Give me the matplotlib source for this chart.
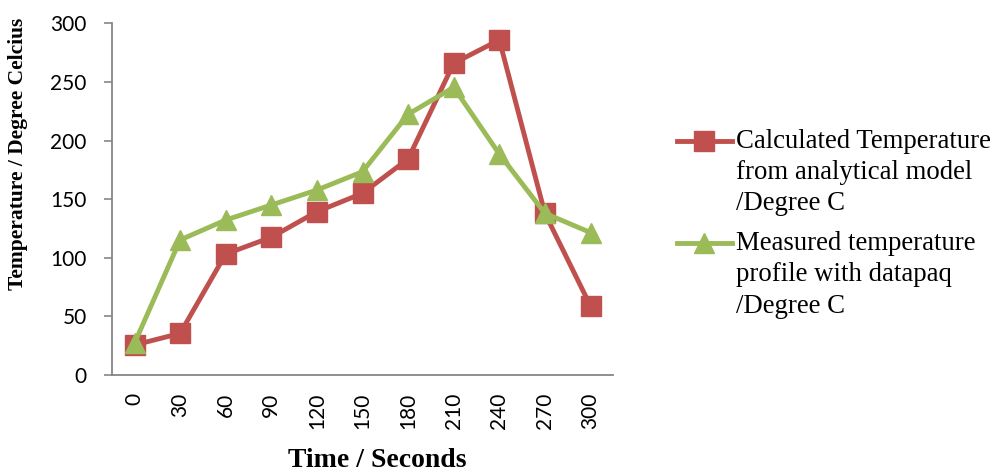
import matplotlib
matplotlib.use("Agg")
import matplotlib.pyplot as plt
from matplotlib.legend_handler import HandlerLine2D

# data
times = ["0", "30", "60", "90", "120", "150", "180", "210", "240", "270", "300"]
calculated = [25.6, 35.5, 103.2, 117.5, 139.3, 155.0, 184.3, 265.9, 285.8, 137.9, 58.9]
measured = [27.0, 115.2, 132.2, 145.0, 157.8, 173.4, 222.4, 245.4, 188.5, 138.0, 121.5]

calc_label = "Calculated Temperature\nfrom analytical model\n/Degree C"
meas_label = "Measured temperature\nprofile with datapaq\n/Degree C"

red = "#C0504D"
green = "#9BBB59"
axis_grey = "#868686"
LEG_SIZE = 19.3


class FirstLineHandler(HandlerLine2D):
    # Excel puts the legend key next to the first line of a wrapped label
    def create_artists(self, legend, orig_handle, xdescent, ydescent, width, height, fontsize, trans):
        artists = super().create_artists(legend, orig_handle, xdescent, ydescent,
                                         width, height, fontsize, trans)
        for a in artists:
            a.set_ydata([y + 23.0 for y in a.get_ydata()])
        return artists


fig = plt.figure(figsize=(10, 4.72), dpi=100)
ax = fig.add_axes([0.1117, 0.2055, 0.5016, 0.7451])

x = list(range(len(times)))
ax.plot(x, calculated, color=red, lw=3.5, marker="s", markersize=14, label=calc_label)
ax.plot(x, measured, color=green, lw=3.5, marker="^", markersize=15, label=meas_label)

ax.set_xlim(-0.5, len(times) - 0.5)
ax.set_ylim(0, 300)
ax.set_yticks([0, 50, 100, 150, 200, 250, 300])
ax.set_xticks(x)
ax.set_xticklabels(times, rotation=90, family="Lato", fontsize=15)
for lbl in ax.get_yticklabels():
    lbl.set_family("Lato")
    lbl.set_fontsize(15)

ax.tick_params(axis="x", length=0, pad=13)
ax.tick_params(axis="y", length=6, width=1.2, color=axis_grey, pad=12)

for side in ["top", "right"]:
    ax.spines[side].set_visible(False)
for side in ["left", "bottom"]:
    ax.spines[side].set_color(axis_grey)
    ax.spines[side].set_linewidth(1.3)

fig.text(0.377, 1 - 467 / 472, "Time / Seconds", family="Liberation Serif", fontweight="bold",
         fontsize=20, ha="center", va="baseline")
fig.text(0.0185, 1 - 154 / 472, "Temperature / Degree Celcius", family="Liberation Serif",
         fontweight="bold", fontsize=15.5, rotation=90, ha="center", va="center")

handler = FirstLineHandler()
leg = fig.legend(loc="upper left", bbox_to_anchor=(0.666, 0.750), frameon=False,
                 prop={"family": "Liberation Serif", "size": LEG_SIZE},
                 handlelength=2.05, handletextpad=0.15, labelspacing=0.55,
                 borderaxespad=0, handler_map={ax.lines[0]: handler, ax.lines[1]: handler})
for t in leg.get_texts():
    t.set_linespacing(1.33)

fig.savefig("out.png", dpi=100)
